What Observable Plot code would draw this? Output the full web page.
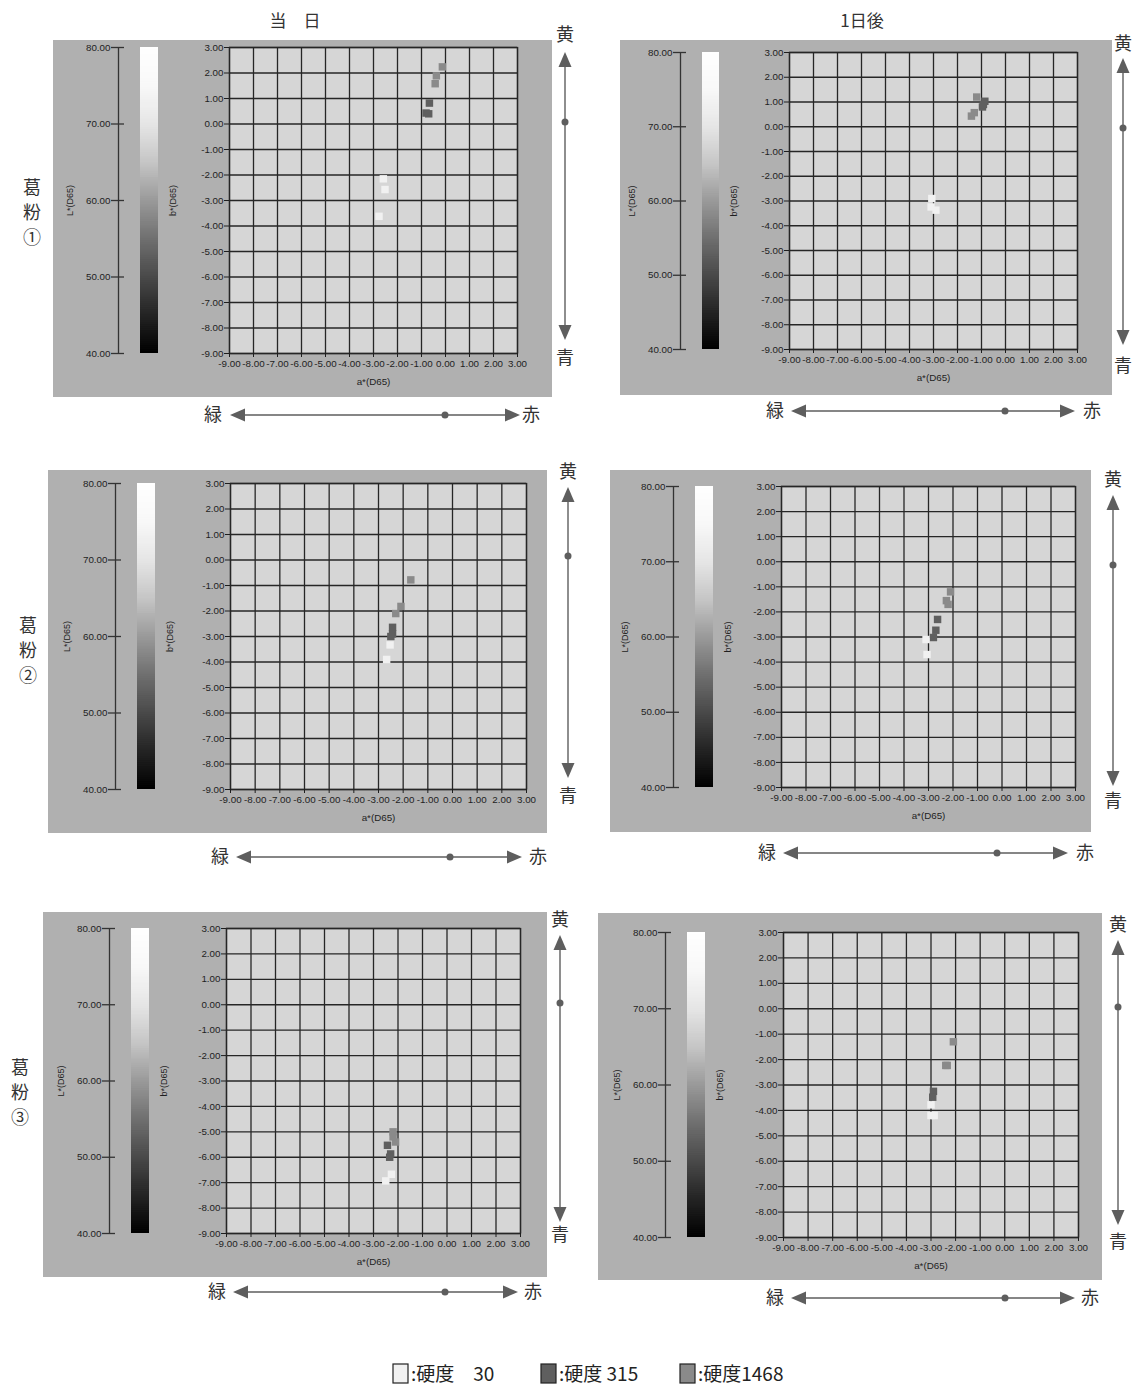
<!DOCTYPE html>
<html><head><meta charset="utf-8">
<script src="https://cdn.jsdelivr.net/npm/d3@7"></script>
<script src="https://cdn.jsdelivr.net/npm/@observablehq/plot@0.6"></script>
<style>
body{margin:0;background:#fff;width:1140px;height:1390px;position:relative;overflow:hidden;font-family:"Liberation Sans",Arial,sans-serif}
.panel{position:absolute;background:#b0b0b0}
.cjk{font-family:"Noto Sans CJK JP",sans-serif;color:#333}
</style></head><body>
<script>
// ---------- data ----------
const hardnessLevels = [30, 315, 1468];
const hardnessColors = ["#f1f1f1", "#5f5f5f", "#8a8a8a"];
const aTicks = [-9,-8,-7,-6,-5,-4,-3,-2,-1,0,1,2,3];
const bTicks = [-9,-8,-7,-6,-5,-4,-3,-2,-1,0,1,2,3];
const LTicks = [40,50,60,70,80];
const columnTitles = ["当　日", "1日後"];
const rowTitles = ["葛粉①", "葛粉②", "葛粉③"];

// 葛粉① 当日
const kuzu1_day0 = [
  {h:1468,a:-0.13,b:2.24},{h:1468,a:-0.38,b:1.89},{h:1468,a:-0.43,b:1.58},
  {h:315,a:-0.67,b:0.82},{h:315,a:-0.81,b:0.43},{h:315,a:-0.70,b:0.40},
  {h:30,a:-2.59,b:-2.15},{h:30,a:-2.52,b:-2.57},{h:30,a:-2.77,b:-3.62}
];
// 葛粉① 1日後
const kuzu1_day1 = [
  {h:1468,a:-1.20,b:1.20},{h:1468,a:-1.42,b:0.43},{h:1468,a:-1.30,b:0.57},
  {h:315,a:-0.86,b:1.03},{h:315,a:-0.96,b:0.80},{h:315,a:-0.92,b:0.90},
  {h:30,a:-3.10,b:-3.24},{h:30,a:-3.07,b:-2.90},{h:30,a:-2.90,b:-3.37}
];
// 葛粉② 当日
const kuzu2_day0 = [
  {h:1468,a:-1.69,b:-0.78},{h:1468,a:-2.09,b:-1.82},{h:1468,a:-2.30,b:-2.10},
  {h:315,a:-2.43,b:-2.64},{h:315,a:-2.43,b:-2.90},{h:315,a:-2.50,b:-3.00},
  {h:30,a:-2.53,b:-3.33},{h:30,a:-2.67,b:-3.90}
];
// 葛粉② 1日後
const kuzu2_day1 = [
  {h:1468,a:-2.10,b:-1.20},{h:1468,a:-2.27,b:-1.55},{h:1468,a:-2.20,b:-1.70},
  {h:315,a:-2.63,b:-2.30},{h:315,a:-2.70,b:-2.73},{h:315,a:-2.80,b:-3.02},
  {h:30,a:-3.10,b:-3.10},{h:30,a:-3.06,b:-3.70}
];
// 葛粉③ 当日
const kuzu3_day0 = [
  {h:1468,a:-2.20,b:-5.00},{h:1468,a:-2.10,b:-5.40},{h:1468,a:-2.20,b:-5.20},
  {h:315,a:-2.43,b:-5.53},{h:315,a:-2.30,b:-5.87},{h:315,a:-2.34,b:-6.00},
  {h:30,a:-2.27,b:-6.67},{h:30,a:-2.50,b:-6.93}
];
// 葛粉③ 1日後
const kuzu3_day1 = [
  {h:1468,a:-2.09,b:-1.30},{h:1468,a:-2.34,b:-2.23},{h:1468,a:-2.40,b:-2.23},
  {h:315,a:-2.90,b:-3.25},{h:315,a:-2.93,b:-3.48},
  {h:30,a:-3.00,b:-3.78},{h:30,a:-2.87,b:-4.20},{h:30,a:-3.00,b:-4.20}
];

// ---------- layout (pixels) ----------
const layout = [
  {data:kuzu1_day0, bg:[53,40,499,357],  frame:[229,517,47,353],  Lx:118, cb:[140,158]},
  {data:kuzu1_day1, bg:[620,40,492,355], frame:[789,1077,52,349], Lx:680, cb:[702,719]},
  {data:kuzu2_day0, bg:[48,470,499,363], frame:[230,526,483,789], Lx:115, cb:[137,155]},
  {data:kuzu2_day1, bg:[610,470,481,362],frame:[781,1075,486,787],Lx:673, cb:[695,713]},
  {data:kuzu3_day0, bg:[43,912,504,365], frame:[226,520,928,1233],Lx:109, cb:[131,149]},
  {data:kuzu3_day1, bg:[598,913,504,367],frame:[783,1078,932,1237],Lx:665, cb:[687,705]}
];
const arrowsV = [
  {x:565, top:35, y0:52, y1:340, dot:122, bot:358},
  {x:1123,top:44, y0:58, y1:345, dot:128, bot:366},
  {x:568, top:472,y0:487,y1:778, dot:556, bot:796},
  {x:1113,top:480,y0:495,y1:786, dot:565, bot:801},
  {x:560, top:920,y0:935,y1:1222,dot:1003,bot:1235},
  {x:1118,top:925,y0:940,y1:1225,dot:1007,bot:1242}
];
const arrowsH = [
  {y:415, left:213, x0:230, x1:520, dot:445, right:531},
  {y:411, left:775, x0:791, x1:1075,dot:1005,right:1092},
  {y:857, left:220, x0:236, x1:522, dot:450, right:538},
  {y:853, left:767, x0:783, x1:1068,dot:997, right:1085},
  {y:1292,left:217, x0:233, x1:518, dot:445, right:533},
  {y:1298,left:775, x0:791, x1:1075,dot:1005,right:1090}
];

const fmt = d => d.toFixed(2);
const colorOf = h => hardnessColors[hardnessLevels.indexOf(h)];
const grad = d3.scaleLinear()
  .domain([40,45,50,55,60,65,70,75,80])
  .range(["#000000","#242424","#4a4a4a","#707070","#9a9a9a","#c6c6c6","#e6e6e6","#f8f8f8","#ffffff"]);
const Lsteps = d3.range(40, 80, 0.25);
const tickFont = "'Liberation Sans', Arial, sans-serif";

function place(el, left, top) {
  el.style.position = "absolute"; el.style.left = left + "px"; el.style.top = top + "px";
  document.body.appendChild(el);
}

layout.forEach(p => {
  const bg = document.createElement("div");
  bg.className = "panel";
  Object.assign(bg.style, {left:p.bg[0]+"px", top:p.bg[1]+"px", width:p.bg[2]+"px", height:p.bg[3]+"px"});
  document.body.appendChild(bg);

  // scatter a*/b*
  const [x0,x1,y0,y1] = p.frame;
  const mL=42, mR=16, mT=8, mB=36;
  const sc = Plot.plot({
    width: x1-x0+mL+mR, height: y1-y0+mT+mB,
    marginLeft:mL, marginRight:mR, marginTop:mT, marginBottom:mB,
    style:{background:"transparent", fontFamily:tickFont, fontSize:"9.8px", color:"#1e1e1e", overflow:"visible"},
    x:{domain:[-9,3]},
    y:{domain:[-9,3]},
    marks:[
      Plot.frame({fill:"#d6d6d6", stroke:null}),
      Plot.gridX(aTicks, {stroke:"#262626", strokeOpacity:1, strokeWidth:1.3}),
      Plot.gridY(bTicks, {stroke:"#262626", strokeOpacity:1, strokeWidth:1.3}),
      Plot.frame({stroke:"#262626", strokeWidth:1.3}),
      Plot.axisX({ticks:aTicks, tickFormat:fmt, tickSize:4, tickPadding:3, label:"a*(D65)", labelAnchor:"center", labelArrow:"none", labelOffset:31, fontSize:9.8, letterSpacing:"-0.3px"}),
      Plot.axisY({ticks:bTicks, tickFormat:fmt, tickSize:5, tickPadding:1, label:null, fontSize:9.8}),
      Plot.dot(p.data, {x:"a", y:"b", symbol:"square", r:4.2, fill:d=>colorOf(d.h), stroke:null})
    ]
  });
  place(sc, x0-mL, y0-mT);

  // L* colour bar
  const lm = 62, W = p.cb[1]-p.Lx + 24;
  const lb = Plot.plot({
    width: lm + W, height: y1-y0+16, marginLeft:lm, marginRight:0, marginTop:8, marginBottom:8,
    style:{background:"transparent", fontFamily:tickFont, fontSize:"9.8px", color:"#1e1e1e", overflow:"visible"},
    x:{domain:[0,W], axis:null},
    y:{domain:[40,80], axis:null},
    marks:[
      Plot.rect(Lsteps, {x1:p.cb[0]-p.Lx, x2:p.cb[1]-p.Lx, y1:d=>d, y2:d=>Math.min(80,d+0.4), fill:d=>grad(d+0.125)}),
      Plot.ruleX([0], {y1:40, y2:80, stroke:"#333", strokeWidth:1.3}),
      Plot.ruleY(LTicks, {x1:-7, x2:6, stroke:"#333", strokeWidth:1.3}),
      Plot.text(LTicks, {y:d=>d, x:-8, text:fmt, textAnchor:"end", fontSize:9.8}),
      Plot.text(["L*(D65)"], {x:-48, y:60, text:d=>d, rotate:-90, fontSize:9}),
      Plot.text(["b*(D65)"], {x:p.cb[1]-p.Lx+15, y:60, text:d=>d, rotate:-90, fontSize:9})
    ]
  });
  place(lb, p.Lx-lm, y0-8);
});

// ---------- direction arrows ----------
const ov = d3.select("body").append("svg")
  .attr("width",1140).attr("height",1390)
  .style("position","absolute").style("left","0px").style("top","0px");
const ac = "#5e5e5e";
arrowsV.forEach(a => {
  ov.append("line").attr("x1",a.x).attr("x2",a.x).attr("y1",a.y0+10).attr("y2",a.y1-10).attr("stroke",ac).attr("stroke-width",1.4);
  ov.append("path").attr("d",`M${a.x},${a.y0}L${a.x-6.5},${a.y0+15}L${a.x+6.5},${a.y0+15}Z`).attr("fill",ac);
  ov.append("path").attr("d",`M${a.x},${a.y1}L${a.x-6.5},${a.y1-15}L${a.x+6.5},${a.y1-15}Z`).attr("fill",ac);
  ov.append("circle").attr("cx",a.x).attr("cy",a.dot).attr("r",3.5).attr("fill",ac);
  ov.append("text").attr("x",a.x).attr("y",a.top).attr("dy","0.36em").attr("text-anchor","middle").attr("class","cjk").attr("font-size",18).attr("fill","#333").text("黄");
  ov.append("text").attr("x",a.x).attr("y",a.bot).attr("dy","0.36em").attr("text-anchor","middle").attr("class","cjk").attr("font-size",18).attr("fill","#333").text("青");
});
arrowsH.forEach(a => {
  ov.append("line").attr("y1",a.y).attr("y2",a.y).attr("x1",a.x0+10).attr("x2",a.x1-10).attr("stroke",ac).attr("stroke-width",1.4);
  ov.append("path").attr("d",`M${a.x0},${a.y}L${a.x0+15},${a.y-6.5}L${a.x0+15},${a.y+6.5}Z`).attr("fill",ac);
  ov.append("path").attr("d",`M${a.x1},${a.y}L${a.x1-15},${a.y-6.5}L${a.x1-15},${a.y+6.5}Z`).attr("fill",ac);
  ov.append("circle").attr("cx",a.dot).attr("cy",a.y).attr("r",3.5).attr("fill",ac);
  ov.append("text").attr("x",a.left).attr("y",a.y).attr("dy","0.36em").attr("text-anchor","middle").attr("class","cjk").attr("font-size",18).attr("fill","#333").text("緑");
  ov.append("text").attr("x",a.right).attr("y",a.y).attr("dy","0.36em").attr("text-anchor","middle").attr("class","cjk").attr("font-size",18).attr("fill","#333").text("赤");
});
// column titles
[[295,columnTitles[0]],[862,columnTitles[1]]].forEach(([x,t]) => {
  ov.append("text").attr("x",x).attr("y",21).attr("dy","0.36em").attr("text-anchor","middle").attr("class","cjk").attr("font-size",17).attr("fill","#333").text(t);
});
// row titles (vertical)
[[32,188],[28,626],[20,1068]].forEach(([x,y],i) => {
  Array.from(rowTitles[i]).forEach((ch,j) => {
    ov.append("text").attr("x",x).attr("y",y+j*25).attr("dy","0.36em").attr("text-anchor","middle").attr("class","cjk").attr("font-size",18).attr("fill","#333").text(ch);
  });
});
// legend
const legX = [393, 541, 680];
const legTxt = [":硬度　30", ":硬度 315", ":硬度1468"];
hardnessLevels.forEach((h,i) => {
  ov.append("rect").attr("x",legX[i]).attr("y",1364).attr("width",15).attr("height",19).attr("fill",hardnessColors[i]).attr("stroke","#222").attr("stroke-width",1.2);
  ov.append("text").attr("x",legX[i]+18).attr("y",1374).attr("dy","0.36em").attr("class","cjk").attr("font-size",19).attr("fill","#222").text(legTxt[i]);
});
</script>
</body></html>
